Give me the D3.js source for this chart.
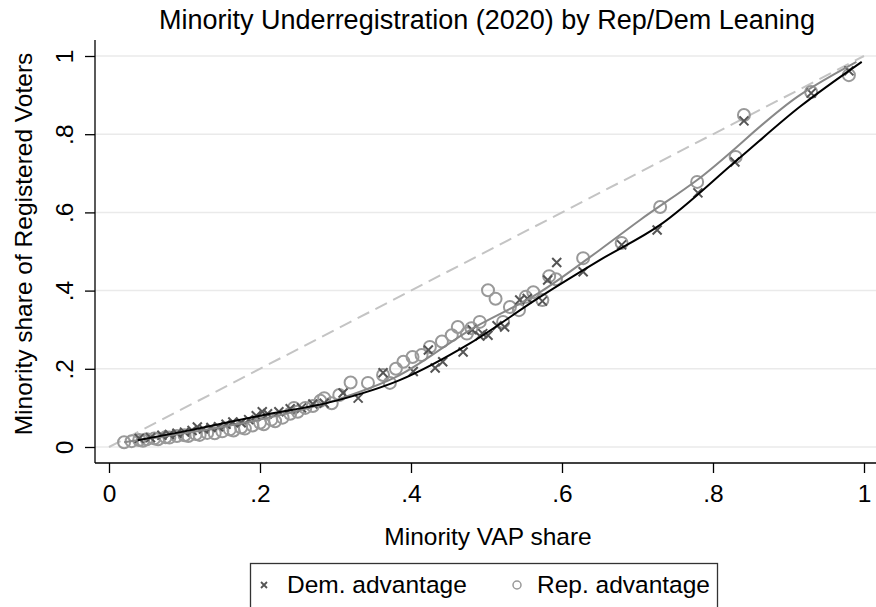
<!DOCTYPE html>
<html><head><meta charset="utf-8">
<script src="https://cdn.jsdelivr.net/npm/d3@7"></script>
<style>body{margin:0;background:#fff}svg{display:block}text{font-family:"Liberation Sans",Arial,sans-serif;fill:#000}</style>
</head><body><svg id="c" width="876" height="607"></svg>
<script>
const xTicks=[0,0.2,0.4,0.6,0.8,1];
const yTicks=[0,0.2,0.4,0.6,0.8,1];
const tickLabels=["0",".2",".4",".6",".8","1"];
const repX=[0.02,0.03,0.04,0.045,0.05,0.06,0.065,0.075,0.08,0.09,0.1,0.105,0.115,0.12,0.13,0.14,0.15,0.16,0.165,0.175,0.18,0.19,0.2,0.205,0.215,0.22,0.23,0.24,0.245,0.25,0.26,0.27,0.28,0.285,0.295,0.305,0.32,0.343,0.363,0.372,0.38,0.39,0.402,0.414,0.425,0.441,0.454,0.462,0.474,0.48,0.491,0.502,0.512,0.522,0.531,0.543,0.552,0.562,0.574,0.583,0.592,0.628,0.679,0.73,0.779,0.83,0.841,0.93,0.98];
const repY=[0.012,0.015,0.018,0.016,0.02,0.022,0.02,0.025,0.024,0.028,0.03,0.028,0.033,0.031,0.036,0.035,0.04,0.045,0.042,0.05,0.047,0.055,0.062,0.058,0.07,0.066,0.075,0.085,0.1,0.09,0.1,0.105,0.118,0.125,0.112,0.133,0.165,0.164,0.184,0.164,0.2,0.218,0.23,0.235,0.256,0.27,0.286,0.307,0.29,0.304,0.32,0.401,0.379,0.32,0.358,0.35,0.384,0.396,0.376,0.437,0.429,0.483,0.522,0.614,0.678,0.742,0.849,0.908,0.951];
const demX=[0.04,0.055,0.07,0.08,0.09,0.1,0.11,0.117,0.125,0.135,0.145,0.155,0.164,0.175,0.185,0.195,0.203,0.21,0.225,0.24,0.255,0.27,0.285,0.31,0.33,0.363,0.403,0.423,0.432,0.442,0.469,0.481,0.491,0.495,0.502,0.514,0.524,0.544,0.554,0.574,0.581,0.593,0.628,0.679,0.726,0.78,0.829,0.841,0.93,0.98];
const demY=[0.022,0.024,0.03,0.032,0.035,0.038,0.042,0.051,0.046,0.05,0.052,0.058,0.064,0.062,0.07,0.08,0.09,0.085,0.09,0.098,0.1,0.11,0.112,0.138,0.125,0.19,0.193,0.248,0.202,0.218,0.243,0.3,0.284,0.29,0.286,0.31,0.307,0.376,0.38,0.373,0.427,0.472,0.448,0.517,0.555,0.65,0.729,0.834,0.905,0.962];
const demFitX=[0.038,0.1,0.2,0.3,0.385,0.478,0.571,0.65,0.73,0.832,0.915,0.997];
const demFitY=[0.017,0.04,0.08,0.118,0.171,0.265,0.384,0.478,0.568,0.734,0.87,0.985];
const repFitX=[0.02,0.1,0.2,0.3,0.385,0.478,0.571,0.65,0.703,0.779,0.915,0.99];
const repFitY=[0.012,0.035,0.07,0.12,0.184,0.299,0.396,0.504,0.58,0.683,0.9,0.985];
const legendLabels=["Dem. advantage","Rep. advantage"];
const title="Minority Underregistration (2020) by Rep/Dem Leaning";

const FS=24.5;
const svg=d3.select("#c");
const x=d3.scaleLinear().domain([0,1]).range([109,864]);
const y=d3.scaleLinear().domain([0,1]).range([447,56]);
const L=95,R=876,B=463,T=40;

// gridlines
svg.append("g").selectAll("line").data(yTicks).join("line")
 .attr("x1",L).attr("x2",R).attr("y1",d=>y(d)).attr("y2",d=>y(d))
 .attr("stroke","#eaeaea").attr("stroke-width",1.5);

// axes
const xa=svg.append("g").attr("transform",`translate(0,${B})`)
 .call(d3.axisBottom(x).tickValues(xTicks).tickFormat((d,i)=>tickLabels[i]).tickSize(10).tickPadding(12));
xa.select(".domain").attr("d",`M${L},0H${R}`).attr("stroke","#000").attr("stroke-width",1.3);
xa.selectAll(".tick line").attr("stroke","#000").attr("stroke-width",1.3);
xa.selectAll(".tick text").attr("font-size",FS).style("font-family","Liberation Sans, Arial, sans-serif");

const ya=svg.append("g").attr("transform",`translate(${L},0)`)
 .call(d3.axisLeft(y).tickValues(yTicks).tickFormat((d,i)=>tickLabels[i]).tickSize(10));
ya.select(".domain").attr("d",`M0,${T}V${B}`).attr("stroke","#000").attr("stroke-width",1.3);
ya.selectAll(".tick line").attr("stroke","#000").attr("stroke-width",1.3);
ya.selectAll(".tick text").attr("font-size",FS).style("font-family","Liberation Sans, Arial, sans-serif")
 .attr("transform","rotate(-90)").attr("x",0).attr("y",-22).attr("dy","0").attr("text-anchor","middle");

// 45-degree line
svg.append("line").attr("x1",x(0)).attr("y1",y(0)).attr("x2",x(1)).attr("y2",y(1))
 .attr("stroke","#c4c4c4").attr("stroke-width",2).attr("stroke-dasharray","13,7");

// rep circles
svg.append("g").selectAll("circle").data(repX).join("circle")
 .attr("cx",d=>x(d)).attr("cy",(d,i)=>y(repY[i])).attr("r",6)
 .attr("fill","none").attr("stroke","#999").attr("stroke-width",2);

// dem x markers
const s=4.5;
svg.append("g").selectAll("path").data(demX).join("path")
 .attr("d",(d,i)=>{const cx=x(d),cy=y(demY[i]);return `M${cx-s},${cy-s}L${cx+s},${cy+s}M${cx-s},${cy+s}L${cx+s},${cy-s}`;})
 .attr("stroke","#555").attr("stroke-width",2).attr("fill","none");

// fit lines
const line=d3.line().curve(d3.curveMonotoneX);
svg.append("path").attr("d",line(repFitX.map((d,i)=>[x(d),y(repFitY[i])])))
 .attr("fill","none").attr("stroke","#888").attr("stroke-width",2);
svg.append("path").attr("d",line(demFitX.map((d,i)=>[x(d),y(demFitY[i])])))
 .attr("fill","none").attr("stroke","#000").attr("stroke-width",2);

// titles
svg.append("text").attr("x",487).attr("y",29).attr("text-anchor","middle").attr("font-size",27).text(title);
svg.append("text").attr("x",488).attr("y",545).attr("text-anchor","middle").attr("font-size",FS).text("Minority VAP share");
svg.append("text").attr("transform","translate(32,244) rotate(-90)").attr("text-anchor","middle").attr("font-size",FS).text("Minority share of Registered Voters");

// legend
svg.append("rect").attr("x",250.5).attr("y",563.5).attr("width",467).attr("height",50)
 .attr("fill","#fff").attr("stroke","#333").attr("stroke-width",1.3);
const lx=264,ly=585,ls=3;
svg.append("path").attr("d",`M${lx-ls},${ly-ls}L${lx+ls},${ly+ls}M${lx-ls},${ly+ls}L${lx+ls},${ly-ls}`).attr("stroke","#555").attr("stroke-width",1.8);
svg.append("text").attr("x",287).attr("y",593).attr("font-size",FS).text(legendLabels[0]);
svg.append("circle").attr("cx",517).attr("cy",585).attr("r",4).attr("fill","none").attr("stroke","#999").attr("stroke-width",1.5);
svg.append("text").attr("x",537).attr("y",593).attr("font-size",FS).text(legendLabels[1]);
</script></body></html>
